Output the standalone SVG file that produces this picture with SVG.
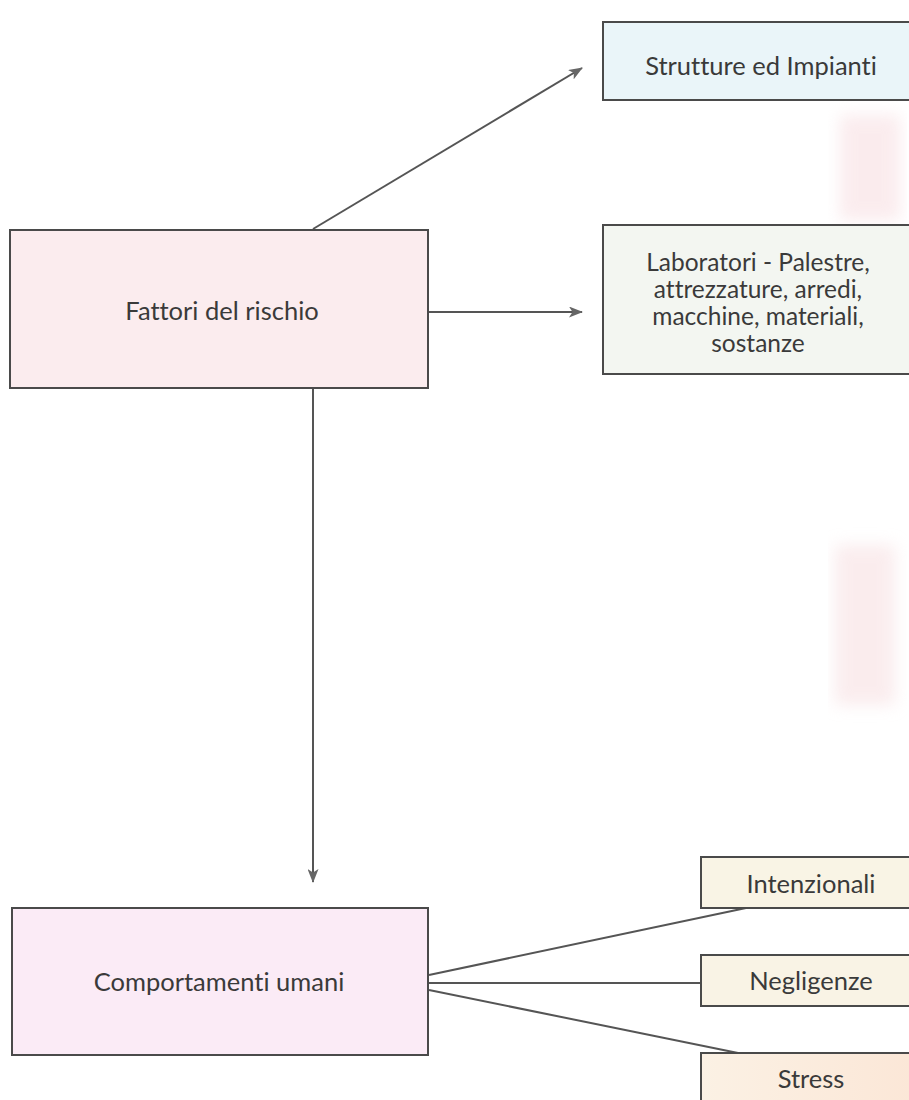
<svg xmlns="http://www.w3.org/2000/svg" width="909" height="1100" viewBox="0 0 909 1100">
<defs>
<style>
.box{stroke:#4a4a4a;stroke-width:2}
.t{font-family:Lato,"Liberation Sans",sans-serif;font-size:25.5px;fill:#3a3a3a;text-anchor:middle;font-variant-ligatures:none}
.tm{font-size:24.5px}
.ln{stroke:#555;stroke-width:2;fill:none}
</style>
<marker id="ah" viewBox="0 0 14 11" refX="13" refY="5.5" markerWidth="14" markerHeight="11" markerUnits="userSpaceOnUse" orient="auto">
<path d="M0,0 L14,5.5 L0,11 L3.5,5.5 Z" fill="#666"/>
</marker>
<linearGradient id="sg" x1="0" y1="0" x2="1" y2="0">
<stop offset="0" stop-color="#fbf1e4"/>
<stop offset="1" stop-color="#fbe6d6"/>
</linearGradient>
<filter id="blur"><feGaussianBlur stdDeviation="8"/></filter>
</defs>
<rect width="909" height="1100" fill="#fff"/>
<g id="smudges" filter="url(#blur)" opacity="0.5">
<rect x="840" y="115" width="60" height="105" fill="#f6d9dd"/>
<rect x="835" y="545" width="60" height="160" fill="#f6dadd"/>
</g>
<g id="connectors">
<line class="ln" x1="313" y1="229" x2="582" y2="68" marker-end="url(#ah)"/>
<line class="ln" x1="429" y1="312" x2="582" y2="312" marker-end="url(#ah)"/>
<line class="ln" x1="313" y1="389" x2="313" y2="882" marker-end="url(#ah)"/>
<line class="ln" x1="429" y1="975" x2="746" y2="908"/>
<line class="ln" x1="429" y1="983" x2="701" y2="983"/>
<line class="ln" x1="429" y1="990" x2="738" y2="1053"/>
</g>
<g id="fattori">
<rect class="box" x="10" y="230" width="418" height="158" fill="#fbecee"/>
<text class="t" x="222" y="320">Fattori del rischio</text>
</g>
<g id="strutture">
<rect class="box" x="603" y="22" width="330" height="78" fill="#eaf5f9"/>
<text class="t" x="761" y="75">Strutture ed Impianti</text>
</g>
<g id="laboratori">
<rect class="box" x="603" y="225" width="330" height="149" fill="#f3f6f1"/>
<text class="t tm" x="758" y="271">Laboratori - Palestre,</text>
<text class="t tm" x="758" y="298">attrezzature, arredi,</text>
<text class="t tm" x="758" y="325">macchine, materiali,</text>
<text class="t tm" x="758" y="352">sostanze</text>
</g>
<g id="comportamenti">
<rect class="box" x="12" y="908" width="416" height="147" fill="#fbebf6"/>
<text class="t" x="219" y="991">Comportamenti umani</text>
</g>
<g id="intenzionali">
<rect class="box" x="701" y="857" width="230" height="51" fill="#f9f4e5"/>
<text class="t" x="811" y="893">Intenzionali</text>
</g>
<g id="negligenze">
<rect class="box" x="701" y="955" width="230" height="51" fill="#f9f3e5"/>
<text class="t" x="811" y="990">Negligenze</text>
</g>
<g id="stress">
<rect class="box" x="701" y="1053" width="230" height="60" fill="url(#sg)"/>
<text class="t" x="811" y="1088">Stress</text>
</g>
</svg>
